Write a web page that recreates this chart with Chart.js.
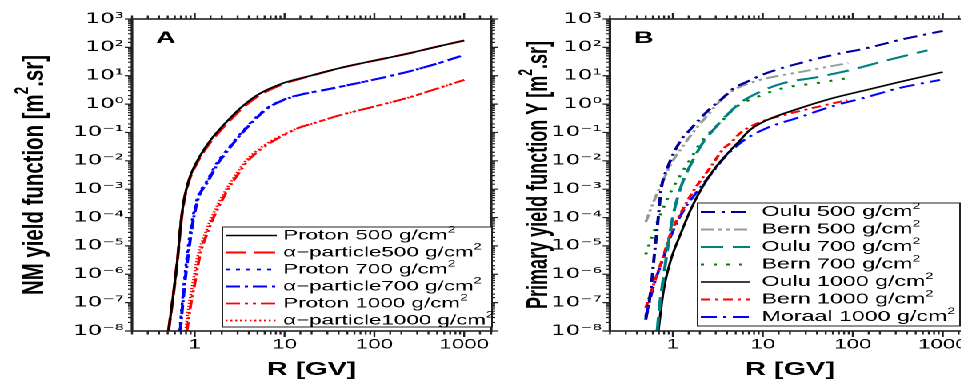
<!DOCTYPE html>
<html>
<head>
<meta charset="utf-8">
<title>Yield functions</title>
<script src="https://cdn.jsdelivr.net/npm/chart.js@4.4.1/dist/chart.umd.min.js"></script>
<style>
  html, body { margin: 0; padding: 0; background: #fff; }
  body { width: 961px; height: 381px; overflow: hidden; position: relative; }
  /* the source figure is stretched sideways, so draw narrow and widen */
  #stretch { position: absolute; left: 0; top: 0; width: 620px; height: 381px;
             transform: scaleX(1.6); transform-origin: 0 0; }
  #stretch canvas { position: absolute; top: 0; }
  #chartA { left: 0; }
  #chartB { left: 312.5px; }
</style>
</head>
<body>
<div id="stretch">
  <canvas id="chartA" width="312" height="381"></canvas>
  <canvas id="chartB" width="300" height="381"></canvas>
</div>
<script>
const FONT = "'Liberation Sans', Arial, sans-serif";
const TICKFONT = "'DejaVu Sans', sans-serif";

// ---------- panel A : NM yield function, R in GV ----------
const namesA = ['Proton 500 g/cm', '\u03b1\u2212particle500 g/cm', 'Proton 700 g/cm',
                '\u03b1\u2212particle700 g/cm', 'Proton 1000 g/cm', '\u03b1\u2212particle1000 g/cm'];

const rProton500 = [0.51, 0.585, 0.646, 0.70, 0.76, 0.86, 1.08, 1.5, 1.94, 2.5, 3.2, 5, 9.7, 17.8, 41, 95, 229, 525, 1000];
const yProton500 = [1e-8, 2.75e-7, 4.1e-6, 6.5e-5, 4.2e-4, 2.1e-3, 1.07e-2, 5.4e-2, 0.141, 0.33, 0.71, 2.1, 5.5, 9.3, 18.6, 33, 59, 110, 174];

const rAlpha500 = [0.51, 0.585, 0.646, 0.70, 0.76, 0.86, 1.08, 1.5, 1.94, 2.5, 3.2, 5, 9.7, 17.8, 41, 95, 229, 525, 1000];
const yAlpha500 = [1e-8, 2.6e-7, 3.9e-6, 6e-5, 3.9e-4, 1.9e-3, 9.5e-3, 4.6e-2, 0.12, 0.28, 0.61, 1.85, 5.1, 9.1, 18.4, 33, 59, 110, 174];

const rProton700 = [0.68, 0.75, 0.82, 0.93, 1.08, 1.36, 1.76, 2.25, 2.95, 3.8, 4.9, 6.4, 9.5, 13.5, 30, 95, 229, 525, 930];
const yProton700 = [1e-8, 3e-7, 4.4e-6, 7e-5, 5.3e-4, 1.9e-3, 8.3e-3, 2.3e-2, 6.5e-2, 0.16, 0.36, 0.73, 1.38, 2.0, 3.3, 7.1, 13.5, 28, 50];

const rAlpha700 = [0.69, 0.76, 0.84, 0.95, 1.1, 1.39, 1.8, 2.3, 3.0, 3.87, 5, 6.5, 9.7, 13.8, 30, 95, 229, 525, 930];
const yAlpha700 = [1e-8, 2.75e-7, 4.1e-6, 6.5e-5, 5e-4, 1.8e-3, 7.9e-3, 2.2e-2, 6.3e-2, 0.155, 0.35, 0.72, 1.38, 2.0, 3.3, 7.1, 13.5, 28, 50];

const rProton1000 = [0.82, 0.9, 0.98, 1.15, 1.4, 1.62, 1.94, 2.3, 3.0, 3.9, 5.4, 7.5, 9.7, 14.8, 21, 42, 95, 229, 525, 1000];
const yProton1000 = [1e-8, 7.9e-8, 3.2e-7, 5e-6, 3.2e-5, 1e-4, 3.2e-4, 8.9e-4, 3.2e-3, 1e-2, 2.5e-2, 5e-2, 7.9e-2, 0.15, 0.21, 0.41, 0.79, 1.62, 3.7, 7.1];

const rAlpha1000 = [0.79, 0.86, 0.93, 1.09, 1.33, 1.54, 1.84, 2.2, 2.85, 3.7, 5.1, 7.1, 9.3, 14.5, 21, 42, 95, 229, 525, 1000];
const yAlpha1000 = [1e-8, 7.9e-8, 3.2e-7, 5e-6, 3.2e-5, 1e-4, 3.2e-4, 8.9e-4, 3.2e-3, 1e-2, 2.5e-2, 5e-2, 7.9e-2, 0.15, 0.21, 0.41, 0.79, 1.62, 3.7, 7.1];

// ---------- panel B : primary yield function ----------
const namesB = ['Oulu 500 g/cm', 'Bern 500 g/cm', 'Oulu 700 g/cm', 'Bern 700 g/cm',
                'Oulu 1000 g/cm', 'Bern 1000 g/cm', 'Moraal 1000 g/cm'];

const rOulu500 = [0.5, 0.57, 0.62, 0.68, 0.74, 0.88, 1.23, 1.5, 2.04, 2.63, 3.39, 4.79, 6.2, 11.2, 26, 60, 145, 330, 1000];
const yOulu500 = [2.5e-8, 2.75e-7, 4.1e-6, 6.5e-5, 9.3e-4, 6e-3, 5.4e-2, 0.11, 0.32, 0.72, 1.38, 3.7, 5.5, 12.6, 28, 54, 95, 182, 380];

const rBern500 = [0.5, 0.62, 0.79, 1.0, 1.25, 1.5, 2.0, 2.45, 3.0, 3.7, 5.25, 9.3, 26, 89];
const yBern500 = [6.9e-5, 4e-4, 2.2e-3, 1e-2, 2.8e-2, 6.3e-2, 0.2, 0.41, 0.89, 1.78, 3.7, 7.1, 13.5, 28];

const rOulu700 = [0.67, 0.72, 0.78, 0.88, 1.0, 1.23, 1.66, 2.15, 2.63, 3.7, 5.6, 9.3, 17, 40, 93, 240, 676];
const yOulu700 = [1e-8, 1e-7, 6.3e-7, 9.1e-6, 1.05e-4, 1.2e-3, 1e-2, 4.3e-2, 9.5e-2, 0.32, 1.1, 2.7, 5.5, 8.9, 15.8, 35, 79];

const rBern700 = [0.5, 0.6, 0.75, 1.0, 1.3, 1.6, 2.0, 2.5, 3.4, 5.2, 8, 17, 40, 89];
const yBern700 = [5e-6, 2.5e-5, 1.6e-4, 1.1e-3, 4.5e-3, 1.26e-2, 4e-2, 8.9e-2, 0.23, 0.85, 1.62, 3.7, 5.5, 8.3];

const rOulu1000 = [0.69, 0.79, 0.95, 1.23, 1.58, 2.04, 2.85, 4.4, 5.5, 7.2, 11.2, 26, 60, 145, 330, 1000];
const yOulu1000 = [1e-8, 2.75e-7, 3.2e-6, 2.8e-5, 1.9e-4, 9.3e-4, 4.8e-3, 2.4e-2, 5e-2, 0.123, 0.275, 0.72, 1.62, 3.2, 6.0, 13.5];

const rBern1000 = [0.5, 0.62, 0.78, 0.95, 1.33, 1.7, 2.63, 3.7, 4.4, 5.6, 9.3, 17, 40, 87];
const yBern1000 = [6.5e-8, 4.9e-7, 4.1e-6, 2.8e-5, 2.3e-4, 8.9e-4, 6e-3, 2.8e-2, 4.3e-2, 9.5e-2, 0.23, 0.41, 0.79, 1.38];

const rMoraal1000 = [0.5, 0.62, 0.78, 0.95, 1.33, 1.9, 2.85, 3.7, 4.8, 6.2, 11.2, 26, 60, 145, 330, 930];
const yMoraal1000 = [3.2e-8, 4.5e-7, 3.5e-6, 2.2e-5, 1.9e-4, 8.9e-4, 4.5e-3, 1.26e-2, 2.8e-2, 5.4e-2, 0.145, 0.35, 0.85, 1.78, 3.7, 7.1];

// ---------- helpers ----------
const SUP = {'-': '\u207b', '0': '\u2070', '1': '\u00b9', '2': '\u00b2', '3': '\u00b3', '4': '\u2074',
             '5': '\u2075', '6': '\u2076', '7': '\u2077', '8': '\u2078', '9': '\u2079'};
const toSup = n => String(n).split('').map(c => SUP[c]).join('');
const isDecade = v => { const l = Math.log10(v); return Math.abs(l - Math.round(l)) < 1e-6; };
const pts = (r, y) => r.map((v, i) => ({x: v, y: y[i]}));

function line(label, r, y, color, dash, width) {
  return { label, data: pts(r, y), borderColor: color, borderDash: dash, borderWidth: width,
           pointRadius: 0, fill: false, cubicInterpolationMode: 'monotone' };
}

// text with a superscript "2" at the end
function supText(ctx, main, x, y, size) {
  const f1 = size + 'px ' + FONT;
  const f2 = Math.round(size * 0.65) + 'px ' + FONT;
  ctx.textAlign = 'left';
  ctx.font = f1; const w1 = ctx.measureText(main).width;
  ctx.fillText(main, x, y);
  ctx.font = f2; ctx.fillText('2', x + w1, y - size * 0.38);
}

const deco = {
  id: 'deco',
  afterDatasetsDraw(chart, args, o) {
    const { ctx, chartArea: a } = chart;
    const xs = chart.scales.x, ys = chart.scales.y;
    ctx.save();
    // tick marks, outward on all four sides
    ctx.strokeStyle = '#222';
    ctx.lineWidth = 1.2;
    ctx.beginPath();
    xs.ticks.forEach(t => {
      const p = xs.getPixelForValue(t.value);
      const L = isDecade(t.value) ? 6 : 3.5;
      ctx.moveTo(p, a.bottom); ctx.lineTo(p, a.bottom + L);
      ctx.moveTo(p, a.top); ctx.lineTo(p, a.top - L);
    });
    ys.ticks.forEach(t => {
      const p = ys.getPixelForValue(t.value);
      const L = isDecade(t.value) ? 4.5 : 2.5;
      ctx.moveTo(a.left, p); ctx.lineTo(a.left - L, p);
      ctx.moveTo(a.right, p); ctx.lineTo(a.right + L, p);
    });
    ctx.stroke();
    ctx.lineWidth = 1.6;
    ctx.strokeRect(a.left, a.top, a.right - a.left, a.bottom - a.top);

    // panel letter
    ctx.fillStyle = '#000';
    ctx.textBaseline = 'alphabetic';
    ctx.textAlign = 'left';
    ctx.font = 'bold 17px ' + FONT;
    ctx.fillText(o.letter, a.left + o.letterDx, 43);

    // x title
    ctx.textAlign = 'center';
    ctx.font = 'bold 18px ' + FONT;
    ctx.fillText('R [GV]', (a.left + a.right) / 2, 375);

    // y title, rotated and fitted to its length in the figure
    ctx.save();
    ctx.translate(o.titleX, (a.top + a.bottom) / 2);
    ctx.rotate(-Math.PI / 2);
    ctx.textBaseline = 'middle';
    ctx.textAlign = 'left';
    const big = 'bold 18px ' + FONT, small = 'bold 12px ' + FONT;
    ctx.font = big;
    const wa = ctx.measureText(o.title).width, wc = ctx.measureText('.sr]').width;
    ctx.font = small;
    const wb = ctx.measureText('2').width;
    const total = wa + wb + wc;
    ctx.scale(o.titleLen / total, 1);
    const x0 = -total / 2;
    ctx.font = big;
    ctx.fillText(o.title, x0, 0);
    ctx.font = small;
    ctx.fillText('2', x0 + wa, -8);
    ctx.font = big;
    ctx.fillText('.sr]', x0 + wa + wb, 0);
    ctx.restore();

    // legend box
    const L = o.legend;
    ctx.fillStyle = '#fff';
    ctx.fillRect(L.left, L.top, L.right - L.left, L.bottom - L.top);
    ctx.strokeStyle = '#222';
    ctx.lineWidth = 1;
    ctx.strokeRect(L.left, L.top, L.right - L.left, L.bottom - L.top);
    chart.data.datasets.forEach((d, i) => {
      const y = L.y0 + i * L.step;
      ctx.save();
      ctx.strokeStyle = d.borderColor;
      ctx.lineWidth = d.borderWidth;
      ctx.setLineDash(d.borderDash || []);
      ctx.beginPath();
      ctx.moveTo(L.s0, y); ctx.lineTo(L.s1, y);
      ctx.stroke();
      ctx.restore();
      ctx.fillStyle = '#000';
      ctx.textBaseline = 'middle';
      supText(ctx, d.label, L.tx, y, L.size);
    });
    ctx.restore();
  }
};

function makeChart(id, datasets, o) {
  return new Chart(document.getElementById(id), {
    type: 'line',
    data: { datasets },
    options: {
      responsive: false,
      devicePixelRatio: 2,
      animation: false,
      layout: { padding: { left: 0, right: o.padRight, top: 19, bottom: 0 } },
      plugins: { legend: { display: false }, tooltip: { enabled: false }, deco: o },
      scales: {
        x: {
          type: 'logarithmic', min: 0.2, max: 2000,
          grid: { display: false, drawTicks: false }, border: { display: false },
          ticks: { autoSkip: false, maxRotation: 0, padding: 5, color: '#000',
                   font: { family: FONT, size: 14 },
                   callback: v => (isDecade(v) && v >= 1) ? String(Math.round(v)) : '' },
          afterFit: s => { s.height = 50; }
        },
        y: {
          type: 'logarithmic', min: 1e-8, max: 1e3,
          grid: { display: false, drawTicks: false }, border: { display: false },
          ticks: { autoSkip: false, padding: 5, color: '#000',
                   font: { family: TICKFONT, size: 14.5 },
                   callback: v => isDecade(v) ? '10' + toSup(Math.round(Math.log10(v))) : '' },
          afterFit: s => { s.width = o.yWidth; }
        }
      }
    },
    plugins: [deco]
  });
}

const setsA = [
  line(namesA[0], rProton500, yProton500, '#000000', [], 1.6),
  line(namesA[1], rAlpha500, yAlpha500, '#ff0000', [13, 5], 2),
  line(namesA[2], rProton700, yProton700, '#0000ff', [2.5, 4], 1.8),
  line(namesA[3], rAlpha700, yAlpha700, '#0000ff', [9, 3, 2, 3], 2),
  line(namesA[4], rProton1000, yProton1000, '#ff0000', [9, 3, 2, 3, 2, 3], 1.8),
  line(namesA[5], rAlpha1000, yAlpha1000, '#ff0000', [1.2, 1.8], 1.8)
];

const setsB = [
  line(namesB[0], rOulu500, yOulu500, '#000099', [9, 4, 2, 4], 2),
  line(namesB[1], rBern500, yBern500, '#999999', [8, 3, 2, 3, 2, 3], 1.9),
  line(namesB[2], rOulu700, yOulu700, '#008080', [14, 6], 2),
  line(namesB[3], rBern700, yBern700, '#008000', [2, 6], 2),
  line(namesB[4], rOulu1000, yOulu1000, '#000000', [], 1.6),
  line(namesB[5], rBern1000, yBern1000, '#ff0000', [6, 3, 2, 3], 1.9),
  line(namesB[6], rMoraal1000, yMoraal1000, '#0000ff', [10, 4, 2, 4], 1.9)
];

makeChart('chartA', setsA, {
  yWidth: 82.5, padRight: 4.5, letter: 'A', letterDx: 15,
  title: 'NM yield function [m', titleX: 22, titleLen: 240,
  legend: { left: 139, right: 307.5, top: 227, bottom: 327, y0: 235.5, step: 17, s0: 141, s1: 173, tx: 177, size: 14 }
});

makeChart('chartB', setsB, {
  yWidth: 68.2, padRight: 6.8, letter: 'B', letterDx: 15,
  title: 'Primary yield function Y [m', titleX: 24, titleLen: 268,
  legend: { left: 123, right: 287, top: 203, bottom: 326, y0: 212, step: 17.5, s0: 125, s1: 156, tx: 163, size: 14.5 }
});
</script>
</body>
</html>
